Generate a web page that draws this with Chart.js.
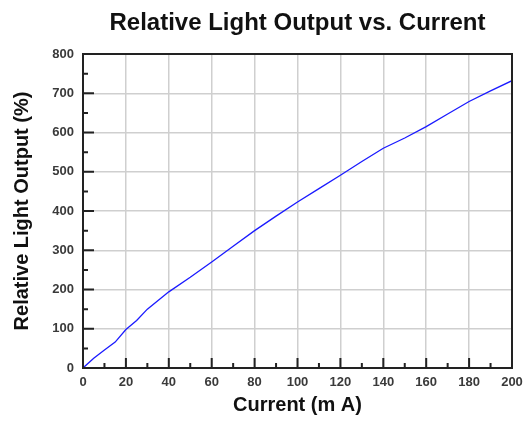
<!DOCTYPE html>
<html>
<head>
<meta charset="utf-8">
<script src="https://cdn.jsdelivr.net/npm/chart.js@4"></script>
<style>
  html, body { margin: 0; padding: 0; background: #fff; }
  #wrap { width: 523px; height: 421px; }
</style>
</head>
<body>
<div id="wrap"><canvas id="lightChart" width="523" height="421"></canvas></div>
<script>
// current in mA, relative light output in %
const currentMA = [0, 5, 10, 15, 20, 25, 30, 40, 50, 60, 70, 80, 90, 100, 110, 120, 130, 140, 150, 160, 170, 180, 190, 200];
const lightOut  = [0, 25, 46, 66, 98, 121, 150, 194, 231, 270, 310, 350, 387, 423, 457, 491, 526, 560, 586, 615, 647, 679, 706, 732];
const chartTitle = 'Relative Light Output vs. Current';
const xTitle = 'Current (m A)';
const yTitle = 'Relative Light Output (%)';

const FONT = 'Arial, "Liberation Sans", sans-serif';

// title centred over the plot, frame and inward ticks
const framePlugin = {
    id: 'frame',
    afterDraw(chart) {
        const ctx = chart.ctx;
        const a = chart.chartArea;
        const xs = chart.scales.x, ys = chart.scales.y;
        ctx.save();
        ctx.fillStyle = '#111';
        ctx.font = 'bold 24px ' + FONT;
        ctx.textAlign = 'center';
        ctx.textBaseline = 'middle';
        ctx.fillText(chartTitle, (a.left + a.right) / 2, 23);

        ctx.strokeStyle = '#222';
        ctx.lineWidth = 2;
        ctx.strokeRect(a.left, a.top, a.right - a.left, a.bottom - a.top);

        ctx.beginPath();
        for (let v = 10; v < 200; v += 10) {
            const px = xs.getPixelForValue(v);
            const len = v % 20 === 0 ? 10 : 5;
            ctx.moveTo(px, a.bottom);
            ctx.lineTo(px, a.bottom - len);
        }
        for (let v = 50; v < 800; v += 50) {
            const py = ys.getPixelForValue(v);
            const len = v % 100 === 0 ? 11 : 5;
            ctx.moveTo(a.left, py);
            ctx.lineTo(a.left + len, py);
        }
        ctx.stroke();
        ctx.restore();
    }
};

const ctxLight = document.getElementById('lightChart').getContext('2d');
const lightChart = new Chart(ctxLight, {
    type: 'line',
    data: {
        datasets: [{
            data: currentMA.map((c, i) => ({ x: c, y: lightOut[i] })),
            borderColor: '#1a1aff',
            borderWidth: 1.3,
            pointRadius: 0,
            fill: false,
            tension: 0
        }]
    },
    options: {
        responsive: false,
        animation: false,
        layout: { padding: { top: 54, right: 11, left: 0, bottom: 0 } },
        plugins: {
            legend: { display: false },
            tooltip: { enabled: false }
        },
        scales: {
            x: {
                type: 'linear',
                min: 0,
                max: 200,
                afterFit(scale) {
                    scale.height = 53;
                    scale.paddingLeft = 0;
                    scale.paddingRight = 0;
                },
                ticks: {
                    stepSize: 20,
                    padding: 7,
                    maxRotation: 0,
                    color: '#3a3a3a',
                    font: { family: FONT, size: 13, weight: 'bold' }
                },
                grid: { color: '#cfcfcf', lineWidth: 1.5, drawTicks: false },
                border: { display: false },
                title: {
                    display: true,
                    text: xTitle,
                    color: '#111',
                    padding: { top: 0, bottom: 4 },
                    font: { family: FONT, size: 20, weight: 'bold' }
                }
            },
            y: {
                min: 0,
                max: 800,
                afterFit(scale) {
                    scale.width = 83;
                    scale.paddingTop = 0;
                    scale.paddingBottom = 0;
                },
                ticks: {
                    stepSize: 100,
                    padding: 9,
                    color: '#3a3a3a',
                    font: { family: FONT, size: 13, weight: 'bold' }
                },
                grid: { color: '#cfcfcf', lineWidth: 1.5, drawTicks: false },
                border: { display: false },
                title: {
                    display: true,
                    text: yTitle,
                    color: '#111',
                    padding: { top: 10, bottom: 0 },
                    font: { family: FONT, size: 20, weight: 'bold' }
                }
            }
        }
    },
    plugins: [framePlugin]
});
</script>
</body>
</html>
